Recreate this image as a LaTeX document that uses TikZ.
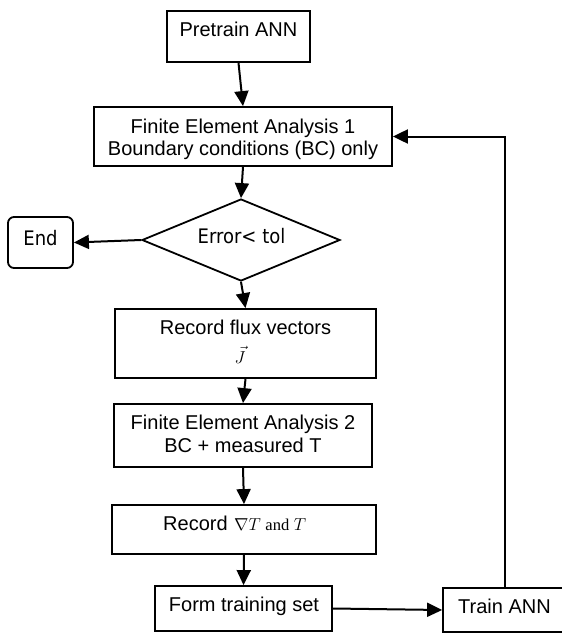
\documentclass[tikz,border=0pt]{standalone}
\usepackage{fontspec}
\setmainfont{Liberation Sans}
\newfontfamily\tahoma{DejaVu Sans Condensed}
\newfontfamily\serifand{Liberation Serif}
\usetikzlibrary{arrows.meta,shapes.geometric}
\begin{document}
\begin{tikzpicture}[x=1pt,y=-1pt,
  box/.style={draw, line width=1.8pt, inner sep=0pt},
  arr/.style={line width=2pt, -{Triangle[length=15pt,width=14pt]}},
  lbl/.style={anchor=base, inner sep=0pt, font=\fontsize{20}{24}\selectfont},
  lblw/.style={anchor=base west, inner sep=0pt, font=\fontsize{20}{24}\selectfont},
  tlbl/.style={anchor=base, inner sep=0pt, font=\tahoma\fontsize{20}{24}\selectfont},
  mlbl/.style={inner sep=0pt, font=\fontsize{16.5}{20}\selectfont}]
\clip (0,0) rectangle (562,635);
\fill[white] (0,0) rectangle (562,635);
% shapes
\node[box, minimum width=143pt, minimum height=51pt] (pre) at (238.5,36.5) {};
\node[box, minimum width=298pt, minimum height=59pt] (fea1) at (243,136.5) {};
\node[box, shape=diamond, minimum width=198pt, minimum height=82pt] (dia) at (241,240) {};
\node[box, rounded corners=6pt, minimum width=65pt, minimum height=51pt] (end) at (40.5,242.5) {};
\node[box, minimum width=261pt, minimum height=69pt] (flux) at (245.5,343.5) {};
\node[box, minimum width=258pt, minimum height=63pt] (fea2) at (243,435.5) {};
\node[box, minimum width=264pt, minimum height=49pt] (rec) at (244,529.5) {};
\node[box, minimum width=177pt, minimum height=45pt] (form) at (243.5,608.5) {};
\node[box, minimum width=124pt, minimum height=44pt] (train) at (505,610) {};
% texts
\node[lbl] (preT) at (238.5,36) {Pretrain ANN};
\node[lbl] (fea1a) at (243,133) {Finite Element Analysis 1};
\node[lbl] (fea1b) at (243,155) {Boundary conditions (BC) only};
\node[tlbl] (diaT) at (241.5,243) {Error< tol};
\node[tlbl] (endT) at (40.5,245) {End};
\node[lbl] (fluxa) at (245.5,334) {Record flux vectors};
\node[mlbl, anchor=base] (fluxb) at (240,363) {$\vec{J}$};
\node[lbl] (fea2a) at (243,429) {Finite Element Analysis 2};
\node[lbl] (fea2b) at (243,452) {BC + measured T};
\node[lblw] (reca) at (163,530) {Record};
\node[mlbl, anchor=base west] (recb) at (234,530) {$\nabla T$ {\serifand and} $T$};
\node[lbl] (formT) at (244,611) {Form training set};
\node[lbl] (trainT) at (504.5,613) {Train ANN};
% connectors
\draw[arr] (pre.south) -- (fea1.north);
\draw[arr] (fea1.south) -- (dia.north);
\draw[arr] (dia.west) -- (end.east);
\draw[arr] (dia.south) -- (flux.north);
\draw[arr] (flux.south) -- (fea2.north);
\draw[arr] (fea2.south) -- (rec.north);
\draw[arr] (rec.south) -- (form.north);
\draw[arr] (form.east) -- (train.west);
\draw[arr] (train.north) |- (fea1.east);
\end{tikzpicture}
\end{document}
